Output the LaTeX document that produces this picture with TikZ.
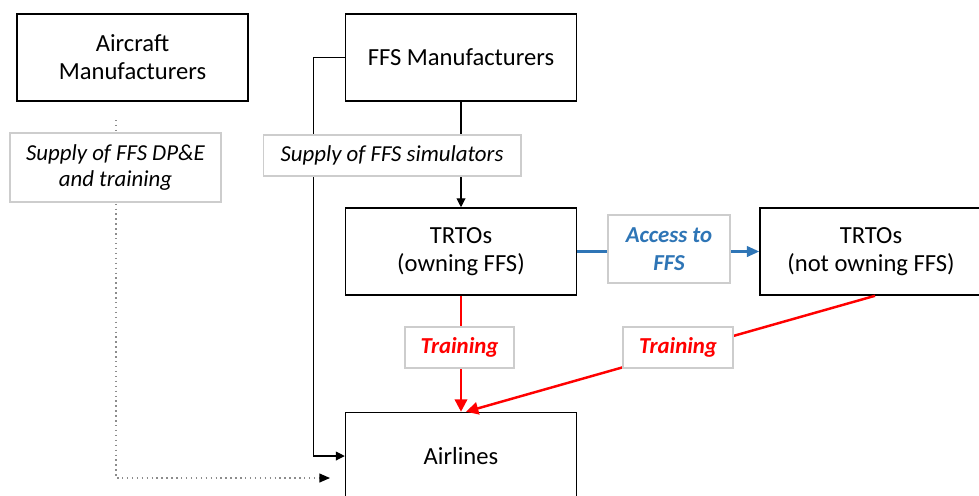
\documentclass[tikz,border=0pt]{standalone}
\usepackage{fontspec}
\setmainfont{Carlito}
\usetikzlibrary{arrows.meta}

\definecolor{accessblue}{RGB}{46,117,182}
\definecolor{trainred}{RGB}{255,0,0}
\definecolor{labelgray}{RGB}{205,205,205}

\tikzset{
	actor/.style={draw, line width=0.9pt, minimum width=4.62cm, minimum height=1.74cm, align=center, font=\fontsize{14}{16}\selectfont},
	flowlabel/.style={draw=labelgray, fill=white, line width=0.6pt, align=center, inner sep=0pt, font=\fontsize{13}{15}\selectfont\itshape},
	tip/.style={-{Triangle[length=5pt,width=5pt]}},
}

\begin{document}
\begin{tikzpicture}[x=0.02cm, y=-0.02cm]
			\useasboundingbox (0,0) rectangle (979,495);
			\node[actor] (aircraft) at (132.5,57.5) {Aircraft\\Manufacturers};
			\node[actor] (ffsman) at (461,57.5) {FFS Manufacturers};
			\node[actor] (owning) at (461,251.5) {TRTOs\\(owning FFS)};
			\node[actor, minimum width=4.44cm] (notowning) at (871,251.5) {TRTOs\\(not owning FFS)};
			\node[actor] (airlines) at (461,456) {Airlines};
			\coordinate (dpestart) at (116,120);
			\coordinate (dpeend) at (330,478);

			\draw[-{Triangle[length=6pt,width=5pt,color=black]}, black!45, dotted, line width=0.8pt] (dpestart) |- (dpeend);
			\draw[tip, line width=0.6pt] (ffsman.west) -- ++(-31,0) |- (airlines.west);
			\draw[tip, line width=0.6pt] (ffsman) -- (owning);
			\draw[-{Triangle[length=7pt,width=6pt]}, accessblue, line width=1.3pt] (owning) -- (notowning);
			\draw[-{Triangle[length=7pt,width=7pt]}, trainred, line width=1.4pt] (owning) -- (airlines);
			\draw[-{Triangle[length=7pt,width=7pt]}, trainred, line width=1.4pt] ([xshift=0.08cm]notowning.south) -- ([xshift=0.1cm]airlines.north);

			\node[flowlabel, minimum width=4.22cm, minimum height=1.38cm] (dpe) at (115.5,167.5) {Supply of FFS DP\&E\\and training};
			\node[flowlabel, minimum width=5.16cm, minimum height=0.82cm] (simulators) at (392,155.5) {Supply of FFS simulators};
			\node[flowlabel, minimum width=2.44cm, minimum height=1.36cm, text=accessblue, font=\fontsize{13}{16}\selectfont\bfseries\itshape] (access) at (669,249) {Access to\\FFS};
			\node[flowlabel, minimum width=2.18cm, minimum height=0.82cm, text=trainred, font=\fontsize{13}{15}\selectfont\bfseries\itshape] (trainown) at (459.5,347.5) {Training};
			\node[flowlabel, minimum width=2.2cm, minimum height=0.82cm, text=trainred, font=\fontsize{13}{15}\selectfont\bfseries\itshape] (trainnot) at (678,347.5) {Training};
		\end{tikzpicture}
\end{document}
